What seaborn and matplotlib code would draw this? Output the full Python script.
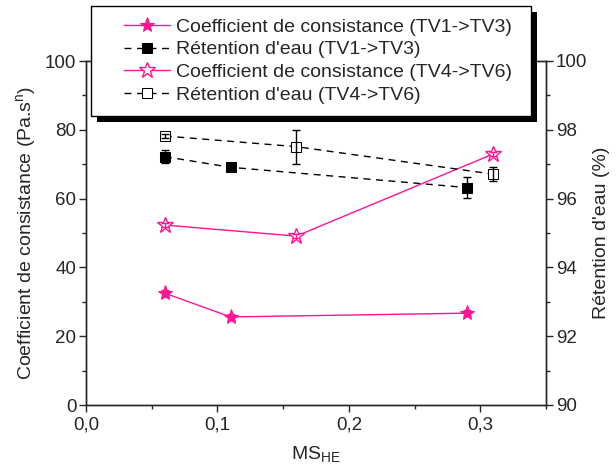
import numpy as np
import pandas as pd
import seaborn as sns
import matplotlib
matplotlib.use("Agg")
import matplotlib.pyplot as plt
import matplotlib.patheffects as pe
from matplotlib.lines import Line2D
from matplotlib.legend_handler import HandlerLine2D
from matplotlib.ticker import MultipleLocator, FuncFormatter

# data
x_tv13 = [0.06, 0.11, 0.29]
k_tv13 = [32.5, 25.6, 26.7]
k_tv13_err = [1.0, 0.8, 0.8]
ret_tv13 = [97.22, 96.91, 96.32]
ret_tv13_err = [0.19, 0.05, 0.30]

x_tv46 = [0.06, 0.16, 0.31]
k_tv46 = [52.3, 49.1, 73.0]
k_tv46_err = [0.6, 0.6, 0.6]
ret_tv46 = [97.82, 97.51, 96.71]
ret_tv46_err = [0.05, 0.49, 0.20]

labels = ["Coefficient de consistance (TV1->TV3)",
          "R\u00e9tention d'eau (TV1->TV3)",
          "Coefficient de consistance (TV4->TV6)",
          "R\u00e9tention d'eau (TV4->TV6)"]

sns.set_style("ticks")
plt.rcParams['font.family'] = ['Liberation Sans', 'DejaVu Sans']
plt.rcParams['mathtext.fontset'] = 'custom'
plt.rcParams['mathtext.rm'] = 'Liberation Sans'

pink = '#FF1493'
fs = 14
tfs = 13.5

fig = plt.figure(figsize=(6.16, 4.73), dpi=100)
ax = fig.add_axes([86/616, 68/473, 460/616, 344/473])
ax2 = ax.twinx()

df13 = pd.DataFrame({'x': x_tv13, 'k': k_tv13, 'r': ret_tv13})
df46 = pd.DataFrame({'x': x_tv46, 'k': k_tv46, 'r': ret_tv46})

# consistency coefficient (left axis)
sns.lineplot(data=df13, x='x', y='k', ax=ax, color=pink, lw=1, marker='*',
             markersize=11, markeredgecolor=pink, markerfacecolor=pink, label=labels[0], legend=False)
ax.errorbar(x_tv13, k_tv13, yerr=k_tv13_err, fmt='none', ecolor=pink, elinewidth=1, capsize=3)
sns.lineplot(data=df46, x='x', y='k', ax=ax, color=pink, lw=1, marker='*',
             markersize=12, markeredgecolor=pink, markerfacecolor='white', markeredgewidth=1,
             label=labels[2], legend=False)
ax.errorbar(x_tv46, k_tv46, yerr=k_tv46_err, fmt='none', ecolor=pink, elinewidth=1, capsize=3)

# water retention (right axis)
sns.lineplot(data=df13, x='x', y='r', ax=ax2, color='black', lw=1, linestyle=(0, (5, 4)),
             marker='s', markersize=7, markerfacecolor='black', markeredgecolor='black',
             label=labels[1], legend=False)
ax2.errorbar(x_tv13, ret_tv13, yerr=ret_tv13_err, fmt='none', ecolor='black', elinewidth=1, capsize=3)
sns.lineplot(data=df46, x='x', y='r', ax=ax2, color='black', lw=1, linestyle=(0, (5, 4)),
             marker='s', markersize=7, markerfacecolor='white', markeredgecolor='black',
             label=labels[3], legend=False)
ax2.errorbar(x_tv46, ret_tv46, yerr=ret_tv46_err, fmt='none', ecolor='black', elinewidth=1, capsize=3)

ax.set_xlim(0, 0.35)
ax.set_ylim(0, 100)
ax2.set_ylim(90, 100)

comma = FuncFormatter(lambda v, p: f"{v:.1f}".replace('.', ','))
ax.xaxis.set_major_locator(MultipleLocator(0.1))
ax.xaxis.set_minor_locator(MultipleLocator(0.05))
ax.xaxis.set_major_formatter(comma)
ax.yaxis.set_major_locator(MultipleLocator(20))
ax.yaxis.set_minor_locator(MultipleLocator(10))
ax2.yaxis.set_major_locator(MultipleLocator(2))
ax2.yaxis.set_minor_locator(MultipleLocator(1))

for a in (ax, ax2):
    a.tick_params(which='major', length=5, width=1, labelsize=tfs, direction='out')
    a.tick_params(which='minor', length=3, width=1, direction='out')
    for s in a.spines.values():
        s.set_linewidth(1)
ax.tick_params(axis='y', pad=2)
ax2.tick_params(axis='y', pad=2)

ax.set_xlabel('MS$_\\mathregular{HE}$', fontsize=fs, labelpad=8)
ax.set_ylabel('Coefficient de consistance (Pa.s$^\\mathregular{n}$)', fontsize=fs, labelpad=4)
ax2.set_ylabel("R\u00e9tention d'eau (%)", fontsize=fs, labelpad=4)

# combined legend, order as in the reference
h1, l1 = ax.get_legend_handles_labels()
h2, l2 = ax2.get_legend_handles_labels()
handles = [h1[0], h2[0], h1[1], h2[1]]
leg = ax2.legend(handles, labels, loc='upper left', mode='expand',
                 bbox_to_anchor=(91/616, 0, 440/616, 1 - 6/473),
                 bbox_transform=fig.transFigure, fontsize=fs, frameon=True, fancybox=False,
                 framealpha=1, facecolor='white',
                 borderpad=0.62, labelspacing=0.26, handlelength=3.45, handletextpad=0.3,
                 borderaxespad=0, handler_map={Line2D: HandlerLine2D(xpad=1.1)})
frame = leg.get_frame()
frame.set_edgecolor('black')
frame.set_linewidth(1)
frame.set_path_effects([pe.SimplePatchShadow(offset=(4.5, -4.5), shadow_rgbFace='black', alpha=1),
                        pe.Normal()])
leg.set_zorder(10)

fig.savefig('out.png', dpi=100)
